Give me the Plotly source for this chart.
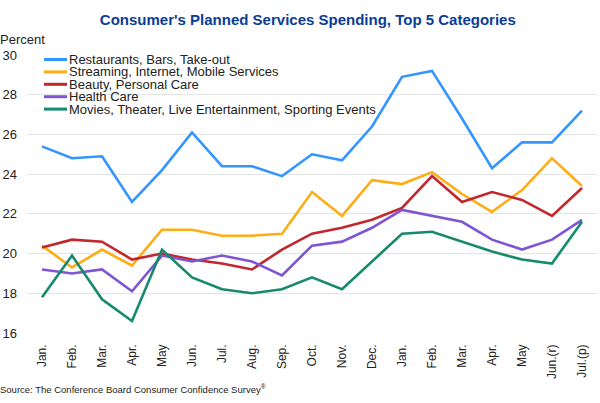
import plotly.graph_objects as go

months = ["Jan.", "Feb.", "Mar.", "Apr.", "May", "Jun.", "Jul.", "Aug.", "Sep.", "Oct.",
          "Nov.", "Dec.", "Jan.", "Feb.", "Mar.", "Apr.", "May", "Jun.(r)", "Jul.(p)"]

restaurants = [25.4, 24.8, 24.9, 22.6, 24.2, 26.1, 24.4, 24.4, 23.9, 25.0,
               24.7, 26.4, 28.9, 29.2, 26.8, 24.3, 25.6, 25.6, 27.2]
streaming = [20.4, 19.3, 20.2, 19.4, 21.2, 21.2, 20.9, 20.9, 21.0, 23.1,
             21.9, 23.7, 23.5, 24.1, 23.0, 22.1, 23.2, 24.8, 23.4]
beauty = [20.3, 20.7, 20.6, 19.7, 20.0, 19.7, 19.5, 19.2, 20.2, 21.0,
          21.3, 21.7, 22.3, 23.9, 22.6, 23.1, 22.7, 21.9, 23.3]
health = [19.2, 19.0, 19.2, 18.1, 19.9, 19.6, 19.9, 19.6, 18.9, 20.4,
          20.6, 21.3, 22.2, 21.9, 21.6, 20.7, 20.2, 20.7, 21.7]
movies = [17.8, 19.9, 17.7, 16.6, 20.2, 18.8, 18.2, 18.0, 18.2, 18.8,
          18.2, 19.6, 21.0, 21.1, 20.6, 20.1, 19.7, 19.5, 21.6]

names = ["Restaurants, Bars, Take-out", "Streaming, Internet, Mobile Services",
         "Beauty, Personal Care", "Health Care",
         "Movies, Theater, Live Entertainment, Sporting Events"]
series = [restaurants, streaming, beauty, health, movies]
colors = ["#3395FF", "#FFAD14", "#C1272D", "#7E55D4", "#178A6C"]

yticks = [16, 18, 20, 22, 24, 26, 28, 30]

W, H = 600, 403
L, R, T, B = 27, 3, 55, 70
pw, ph = W - L - R, H - T - B

x = list(range(len(months)))
fig = go.Figure()
for name, vals, col in zip(names, series, colors):
    fig.add_trace(go.Scatter(x=x, y=vals, mode="lines", name=name,
                             line=dict(color=col, width=2.6), showlegend=False))

font = "Liberation Sans, Arial, sans-serif"

# custom compact legend (paper coordinates)
shapes = []
annotations = []
row0, gap = 59.5, 12.4
for i, (name, col) in enumerate(zip(names, colors)):
    yp = 1 - (row0 + i * gap - T) / ph
    shapes.append(dict(type="line", xref="paper", yref="paper",
                       x0=(44 - L) / pw, x1=(67 - L) / pw, y0=yp, y1=yp,
                       line=dict(color=col, width=3)))
    annotations.append(dict(xref="paper", yref="paper", x=(67 - L) / pw, y=yp,
                            text=name, showarrow=False, xanchor="left", yanchor="middle",
                            font=dict(size=13, color="#222222", family=font)))

annotations.append(dict(xref="paper", yref="paper", x=-L / pw - 0.004, y=1 + 15 / ph,
                        text="Percent", showarrow=False, xanchor="left", yanchor="middle",
                        font=dict(size=13, color="#222222", family=font)))
annotations.append(dict(xref="paper", yref="paper", x=-L / pw - 0.003, y=-(389 - T - ph) / ph,
                        text="Source: The Conference Board Consumer Confidence Survey<sup>®</sup>",
                        showarrow=False, xanchor="left", yanchor="middle",
                        font=dict(size=9.5, color="#222222", family=font)))

fig.update_layout(
    width=W, height=H,
    margin=dict(l=L, r=R, t=T, b=B),
    paper_bgcolor="white", plot_bgcolor="white",
    title=dict(text="<b>Consumer's Planned Services Spending, Top 5 Categories</b>",
               x=0.513, xanchor="center", y=1 - 20 / H, yanchor="middle",
               font=dict(size=15, color="#0B3C96", family=font)),
    xaxis=dict(range=[-0.5, len(months) - 0.5], tickvals=x, ticktext=months,
               tickangle=-90, showgrid=False, zeroline=False, showline=False,
               ticks="", ticklabelstandoff=8,
               tickfont=dict(size=12, color="#222222", family=font)),
    yaxis=dict(range=[16, 30], tickvals=yticks, showgrid=True, gridcolor="#E4E4E4",
               gridwidth=1, zeroline=False, showline=False, ticks="",
               ticklabelstandoff=9,
               tickfont=dict(size=13, color="#222222", family=font)),
    shapes=shapes, annotations=annotations,
)

fig.write_html("out.html")
